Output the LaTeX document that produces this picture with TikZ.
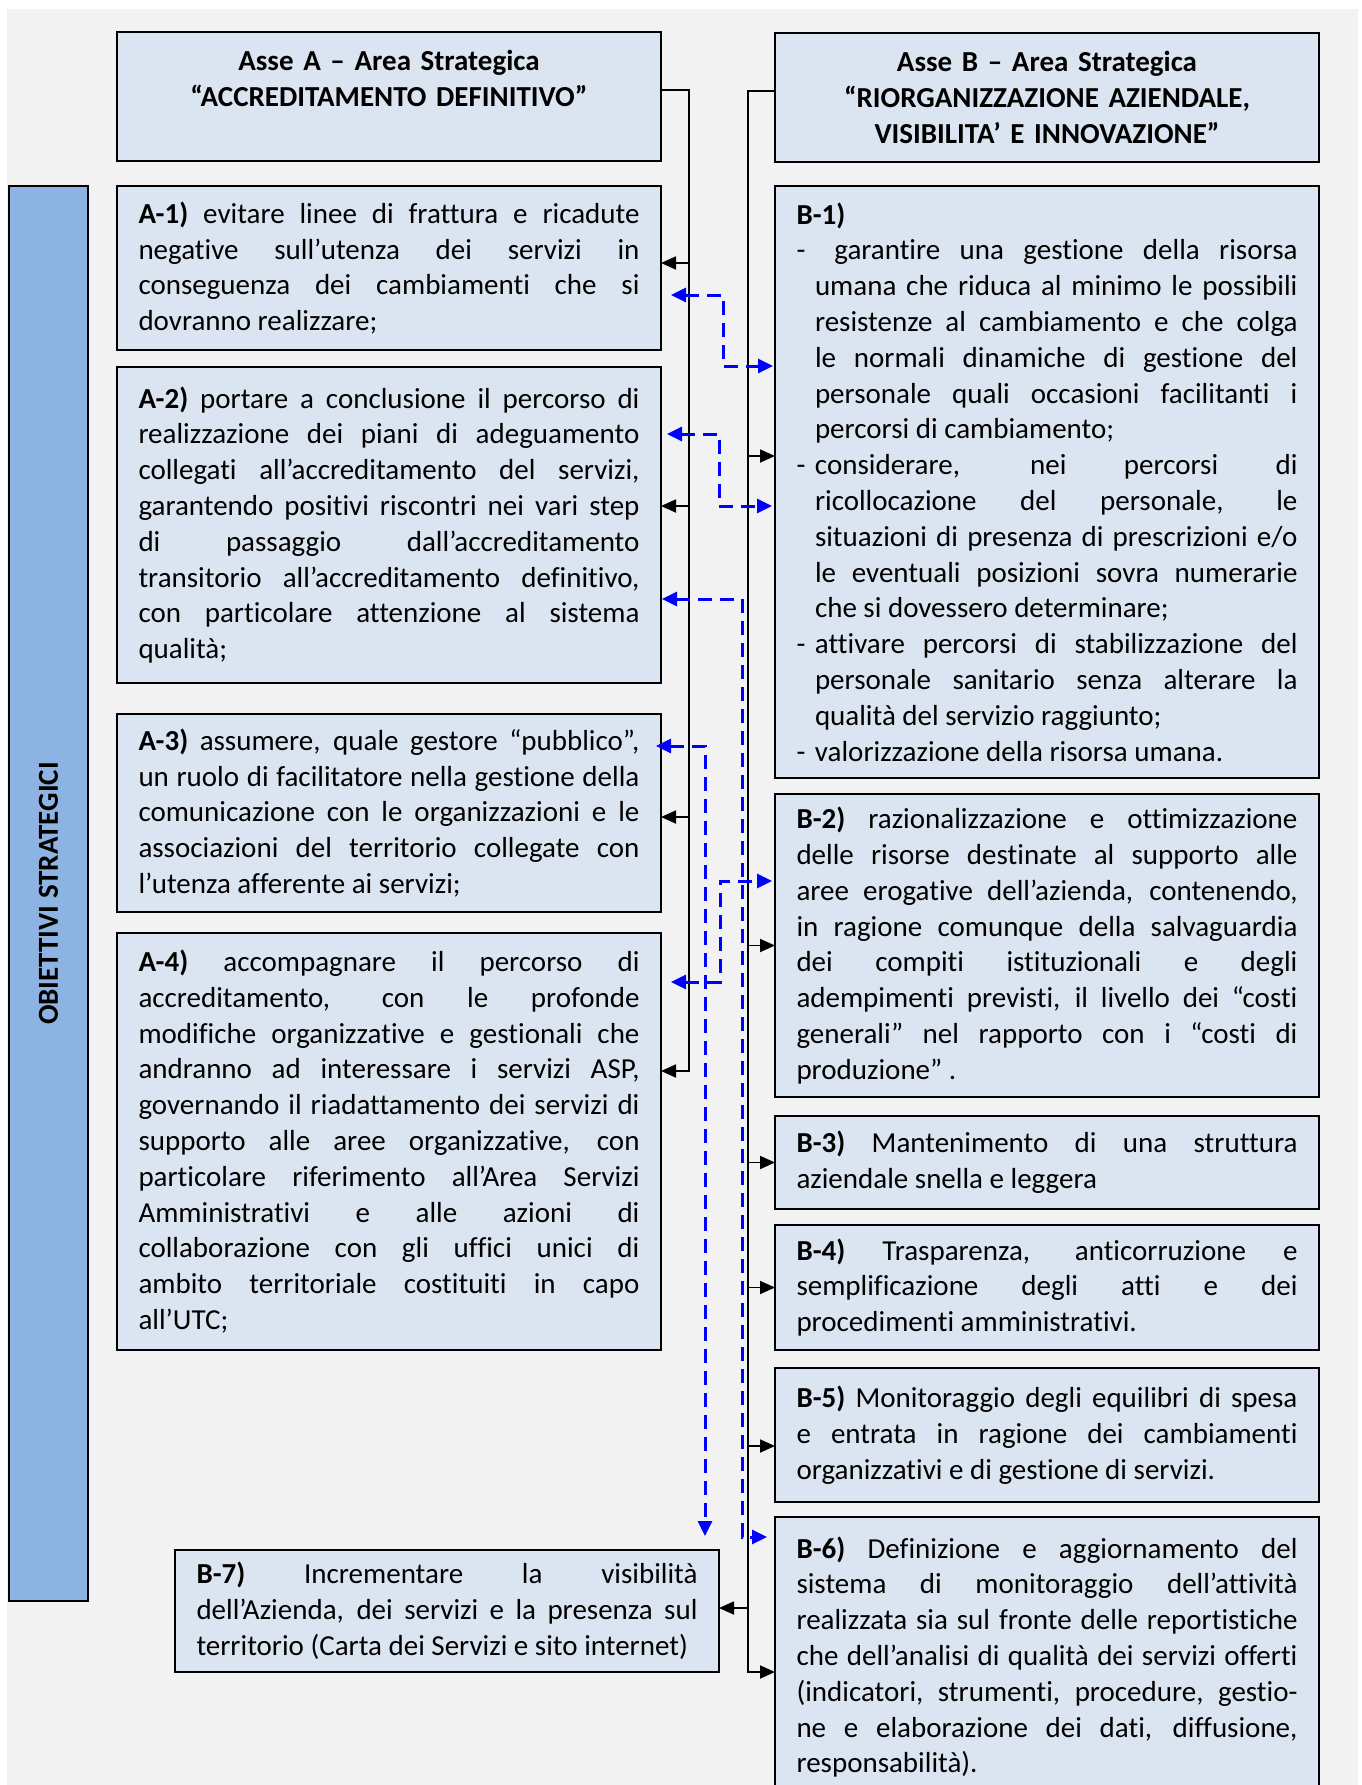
\documentclass[tikz,border=0pt]{standalone}
\usepackage{fontspec}
\setmainfont{Carlito}[Ligatures={TeX,NoCommon}]
\usetikzlibrary{positioning, arrows.meta}

\definecolor{boxblue}{HTML}{DBE5F1}
\definecolor{barblue}{HTML}{8DB3E2}
\definecolor{bggray}{HTML}{F2F2F2}
\definecolor{linkblue}{HTML}{0000FF}

\newcommand{\goalfont}{\fontsize{29}{35.8}\selectfont\parindent=0pt}
\newcommand{\bitem}{\par\hangindent=18.5pt\hangafter=1\noindent\makebox[18.5pt][l]{-}}

\begin{document}
\begin{tikzpicture}[
    x=1pt, y=-1pt,
    goal/.style={
        draw=black, line width=1.6pt, fill=boxblue,
        anchor=north west, outer sep=0pt,
        text width=501pt, inner xsep=21.5pt, inner ysep=4pt,
        align=justify, font=\goalfont
    },
    head/.style={goal, align=center, font=\goalfont\bfseries},
    sidebar/.style={draw=black, line width=1.6pt, fill=barblue, rotate=90, font=\goalfont\bfseries},
    feed/.style={-{Triangle[length=15pt,width=13pt]}, line width=1.8pt, black},
    link/.style={{Triangle[length=15pt,width=14pt]}-{Triangle[length=15pt,width=14pt]},
        line width=3pt, linkblue, dash pattern=on 14pt off 8pt}
]

% page and background
\useasboundingbox (0,0) rectangle (1362,1785);
\clip (0,0) rectangle (1362,1785);
\fill[bggray] (7,9) rectangle (1358,1800);

% Headers
\node[head, minimum height=129pt] (headA) at (117,32) {
    Asse A – Area Strategica\\“ACCREDITAMENTO DEFINITIVO”\\\mbox{}
};
\node[head, minimum height=129pt] (headB) at (775,33) {
    Asse B – Area Strategica\\“RIORGANIZZAZIONE AZIENDALE,\\VISIBILITA’ E INNOVAZIONE”
};

% Side bar
\node[sidebar, minimum width=1415pt, minimum height=79pt] (bar) at (48.5,893.5) {OBIETTIVI STRATEGICI};

% Asse A goals
\node[goal, minimum height=164pt] (a1) at (117,186) {
    \textbf{A-1)} evitare linee di frattura e ricadute\linebreak
    negative sull’utenza dei servizi in\linebreak
    conseguenza dei cambiamenti che si\linebreak
    dovranno realizzare;
};
\node[goal, below=17pt of a1.south west, anchor=north west, minimum height=316pt] (a2) {
    \textbf{A-2)} portare a conclusione il percorso di\linebreak
    realizzazione dei piani di adeguamento\linebreak
    collegati all’accreditamento del servizi,\linebreak
    garantendo positivi riscontri nei vari step\linebreak
    di passaggio dall’accreditamento\linebreak
    transitorio all’accreditamento definitivo,\linebreak
    con particolare attenzione al sistema\linebreak
    qualità;
};
\node[goal, below=31pt of a2.south west, anchor=north west, minimum height=198pt] (a3) {
    \textbf{A-3)} assumere, quale gestore “pubblico”,\linebreak
    un ruolo di facilitatore nella gestione della\linebreak
    comunicazione con le organizzazioni e le\linebreak
    associazioni del territorio collegate con\linebreak
    l’utenza afferente ai servizi;
};
\node[goal, below=21pt of a3.south west, anchor=north west, minimum height=417pt] (a4) {
    \textbf{A-4)} accompagnare il percorso di\linebreak
    accreditamento, con le profonde\linebreak
    modifiche organizzative e gestionali che\linebreak
    andranno ad interessare i servizi ASP,\linebreak
    governando il riadattamento dei servizi di\linebreak
    supporto alle aree organizzative, con\linebreak
    particolare riferimento all’Area Servizi\linebreak
    Amministrativi e alle azioni di\linebreak
    collaborazione con gli uffici unici di\linebreak
    ambito territoriale costituiti in capo\linebreak
    all’UTC;
};

% Asse B goals
\node[goal, minimum height=592pt] (b1) at (775,186) {
    \textbf{B-1)}
    \bitem\ garantire una gestione della risorsa\linebreak
    umana che riduca al minimo le possibili\linebreak
    resistenze al cambiamento e che colga\linebreak
    le normali dinamiche di gestione del\linebreak
    personale quali occasioni facilitanti i\linebreak
    percorsi di cambiamento;
    \bitem considerare, nei percorsi di\linebreak
    ricollocazione del personale, le\linebreak
    situazioni di presenza di prescrizioni e/o\linebreak
    le eventuali posizioni sovra numerarie\linebreak
    che si dovessero determinare;
    \bitem attivare percorsi di stabilizzazione del\linebreak
    personale sanitario senza alterare la\linebreak
    qualità del servizio raggiunto;
    \bitem valorizzazione della risorsa umana.
};
\node[goal, below=16pt of b1.south west, anchor=north west, minimum height=303pt] (b2) {
    \textbf{B-2)} razionalizzazione e ottimizzazione\linebreak
    delle risorse destinate al supporto alle\linebreak
    aree erogative dell’azienda, contenendo,\linebreak
    in ragione comunque della salvaguardia\linebreak
    dei compiti istituzionali e degli\linebreak
    adempimenti previsti, il livello dei “costi\linebreak
    generali” nel rapporto con i “costi di\linebreak
    produzione” .
};
\node[goal, below=19pt of b2.south west, anchor=north west, minimum height=93pt] (b3) {
    \textbf{B-3)} Mantenimento di una struttura\linebreak
    aziendale snella e leggera
};
\node[goal, below=16pt of b3.south west, anchor=north west, minimum height=125pt] (b4) {
    \textbf{B-4)} Trasparenza, anticorruzione e\linebreak
    semplificazione degli atti e dei\linebreak
    procedimenti amministrativi.
};
\node[goal, below=18pt of b4.south west, anchor=north west, minimum height=134pt] (b5) {
    \textbf{B-5)} Monitoraggio degli equilibri di spesa\linebreak
    e entrata in ragione dei cambiamenti\linebreak
    organizzativi e di gestione di servizi.
};
\node[goal, below=15pt of b5.south west, anchor=north west, minimum height=280pt] (b6) {
    \textbf{B-6)} Definizione e aggiornamento del\linebreak
    sistema di monitoraggio dell’attività\linebreak
    realizzata sia sul fronte delle reportistiche\linebreak
    che dell’analisi di qualità dei servizi offerti\linebreak
    (indicatori, strumenti, procedure, gestio-\linebreak
    ne e elaborazione dei dati, diffusione,\linebreak
    responsabilità).
};
\node[goal, minimum height=122pt] (b7) at (175,1550) {
    \textbf{B-7)} Incrementare la visibilità\linebreak
    dell’Azienda, dei servizi e la presenza sul\linebreak
    territorio (Carta dei Servizi e sito internet)
};

% Left trunk
\draw[feed] ([yshift=6.5pt]headA.east) -| ([xshift=28pt,yshift=70.5pt]a4.east) -- ([yshift=70.5pt]a4.east);
\draw[feed] ([xshift=28pt,yshift=5pt]a1.east) -- ([yshift=5pt]a1.east);
\draw[feed] ([xshift=28pt,yshift=19pt]a2.east) -- ([yshift=19pt]a2.east);
\draw[feed] ([xshift=28pt,yshift=-4pt]a3.east) -- ([yshift=-4pt]a3.east);

% Right trunk
\draw[feed] ([yshift=6.5pt]headB.west) -| ([xshift=-27pt,yshift=-155pt]b6.north west) -- ([yshift=-155pt]b6.north west);
\draw[feed] ([xshift=-27pt,yshift=26pt]b1.west) -- ([yshift=26pt]b1.west);
\draw[feed] ([xshift=-27pt]b2.west) -- (b2.west);
\draw[feed] ([xshift=-27pt]b3.west) -- (b3.west);
\draw[feed] ([xshift=-27pt]b4.west) -- (b4.west);
\draw[feed] ([xshift=-27pt,yshift=-11pt]b5.west) -- ([yshift=-11pt]b5.west);
\draw[feed] ([xshift=29pt,yshift=3pt]b7.east) -- ([yshift=3pt]b7.east);

% Links between the two axes
\draw[link] ([xshift=10pt,yshift=-27pt]a1.east) -| ([xshift=-52pt,yshift=116pt]b1.west) -- ([xshift=-2pt,yshift=116pt]b1.west);
\draw[link] ([xshift=6pt,yshift=91pt]a2.east) -| ([xshift=-56pt,yshift=-24pt]b1.west) -- ([xshift=-3pt,yshift=-24pt]b1.west);
\draw[link] ([xshift=1pt,yshift=-74pt]a2.east) -| ([xshift=-33pt,yshift=-20pt]b6.north west) -- ([xshift=-8pt,yshift=-20pt]b6.north west);
\draw[link] ([xshift=-5pt,yshift=67pt]a3.east) -| ([xshift=-14pt,yshift=14pt]b7.north east);
\draw[link] ([xshift=10pt,yshift=159.5pt]a4.east) -| ([xshift=-55pt,yshift=64.5pt]b2.west) -- ([xshift=-3pt,yshift=64.5pt]b2.west);

\end{tikzpicture}
\end{document}
